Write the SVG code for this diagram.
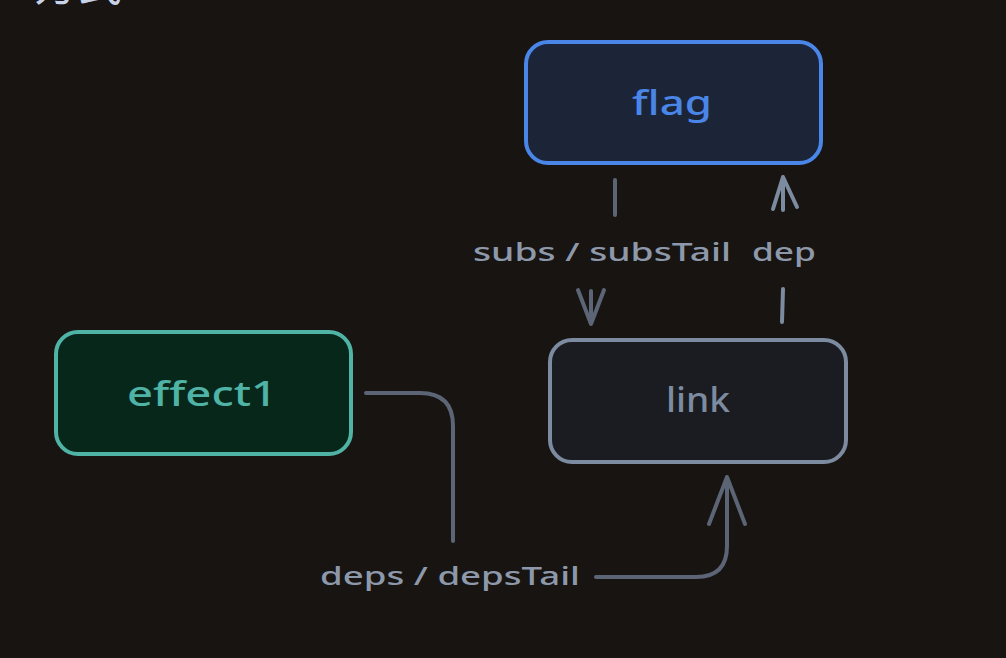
<svg xmlns="http://www.w3.org/2000/svg" width="1006" height="658" viewBox="0 0 1006 658">
<style>
.bg{fill:#171411}
.node{stroke-width:4}
.ntext{font-family:"Noto Sans","Liberation Sans",sans-serif;font-size:35px;font-weight:500;text-anchor:middle}
.lbl{font-family:"Noto Sans","Liberation Sans",sans-serif;font-size:25px;font-weight:500;fill:#8d99ab;text-anchor:middle}
.conn{fill:none;stroke:#5b6576;stroke-width:4;stroke-linecap:round;stroke-linejoin:round}
.conn2{fill:none;stroke:#7d8ba0;stroke-width:4;stroke-linecap:round;stroke-linejoin:round}
.title{font-family:"Noto Sans CJK SC",sans-serif;font-size:44px;fill:#c8d3e8}
</style>
<rect class="bg" x="0" y="0" width="1006" height="658"/>
<text class="title" x="34" y="1">方式</text>
<g id="flag">
<rect class="node" x="526" y="42" width="295" height="121" rx="22" fill="#1c2538" stroke="#4a86e8"/>
<text class="ntext" x="672" y="115" fill="#4a86e8" textLength="80" lengthAdjust="spacingAndGlyphs">flag</text>
</g>
<g id="link">
<rect class="node" x="550" y="340" width="296" height="122" rx="22" fill="#1a1c21" stroke="#7d8ba0"/>
<text class="ntext" x="698" y="412" fill="#7d8ba0" textLength="64" lengthAdjust="spacingAndGlyphs">link</text>
</g>
<g id="effect1">
<rect class="node" x="56" y="332" width="295" height="122" rx="22" fill="#07271a" stroke="#4fb3a5"/>
<text class="ntext" x="202" y="406" fill="#4fb3a5" textLength="150" lengthAdjust="spacingAndGlyphs">effect1</text>
</g>
<g id="connectors">
<path class="conn" d="M615 180 L615 215"/>
<path class="conn" d="M591 291 L591 324 M578 290 L591 324 L604 290"/>
<text class="lbl" x="602" y="261" textLength="258" lengthAdjust="spacingAndGlyphs">subs / subsTail</text>
<path class="conn2" d="M782 322 L783 289"/>
<path class="conn2" d="M783 210 L783 177 M773 209 L783 177 L797 207"/>
<text class="lbl" x="784" y="261" textLength="64" lengthAdjust="spacingAndGlyphs">dep</text>
<path class="conn" d="M366 393 L420 393 Q453 393 453 426 L453 541"/>
<path class="conn" d="M596 577 L696 577 Q727 577 727 546 L727 477 M709 524 L727 477 L745 524"/>
<text class="lbl" x="450" y="585" textLength="260" lengthAdjust="spacingAndGlyphs">deps / depsTail</text>
</g>
</svg>
